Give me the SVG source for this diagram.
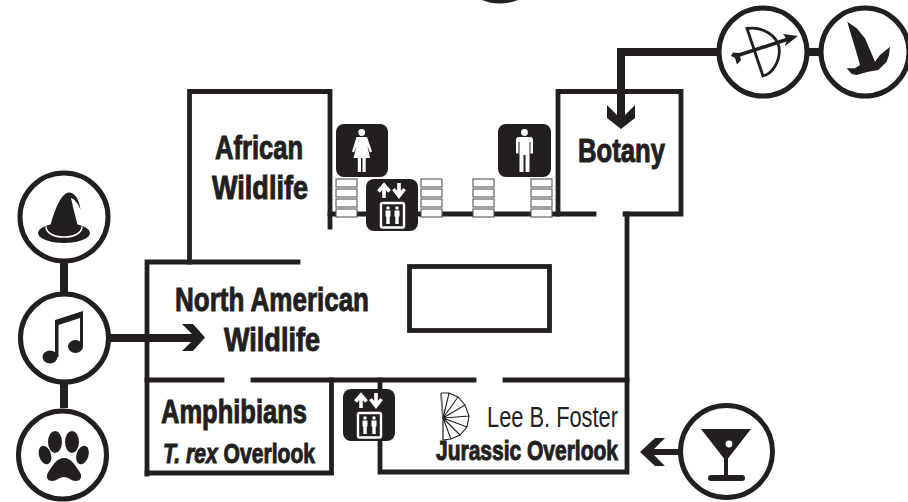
<svg xmlns="http://www.w3.org/2000/svg" width="908" height="502" viewBox="0 0 908 502">
<style>
.w{fill:none;stroke:#231f20;stroke-width:4.800;stroke-linecap:square;stroke-linejoin:miter}
.c{fill:#fff;stroke:#231f20;stroke-width:5}
.l{fill:none;stroke:#231f20;stroke-width:8}
.k{fill:#231f20}
.s{fill:#fff;stroke:#555;stroke-width:1.100}
.t{font-family:"Liberation Sans Narrow","Liberation Sans",Arial,sans-serif;font-weight:700;fill:#231f20;stroke:#231f20;stroke-width:1}
.r{font-family:"Liberation Sans Narrow","Liberation Sans",Arial,sans-serif;font-weight:400;fill:#231f20}
</style>
<defs>
<g id="stairs">
<rect class="s" x="0" y="0" width="21" height="8"/><rect class="s" x="0" y="10" width="21" height="8"/><rect class="s" x="0" y="20" width="21" height="8"/><rect class="s" x="0" y="30" width="21" height="8"/>
</g>
<g id="lift">
<rect class="k" width="52" height="52" rx="8"/>
<path d="M18 19V8M12.500 12.500 18 6l5.500 6.500M33 4v11M27.500 10 33 17l5.500-7" fill="none" stroke="#fff" stroke-width="3.600"/>
<rect x="15" y="24" width="23" height="24.500" rx="1.500" fill="#231f20" stroke="#fff" stroke-width="2.400"/>
<circle cx="22" cy="29" r="1.800" fill="#fff"/><circle cx="31" cy="29" r="1.800" fill="#fff"/>
<path d="M19.500 31.500h5v6h-.8V45h-3.400v-7.500h-.8zM28.500 31.500h5v6h-.8V45h-3.400v-7.500h-.8z" fill="#fff"/>
</g>
</defs>

<g id="walls">
<path class="w" d="M189.500 262V91.500H330V227"/>
<path class="w" d="M147 474V262H298"/>
<path class="w" d="M147 380H222M253 380H474M505 380H627"/>
<path class="w" d="M147 473H331.500V380"/>
<path class="w" d="M380 380V472H627V214H681V91.500H558V214"/>
<path class="w" d="M330 214H594M625 214H627"/>
<rect class="w" x="409.500" y="266.500" width="140" height="64"/>
</g>

<g id="connectors">
<path class="l" d="M64 263V292M64 384V408"/>
<path class="l" d="M110 338H195"/>
<path class="k" d="M182 324H193L205 337.500 193 351H182L192 341V334Z"/>
<path class="l" d="M717 52H621V120"/>
<path class="l" d="M809 52H819"/>
<path class="k" d="M607 105 617 115H625L635 105V118L621 129 607 118Z"/>
<path class="l" d="M679 452H650" style="stroke-width:6"/>
<path class="k" d="M640 452 655 438H665L654 449V455L665 466H655Z"/>
</g>

<g id="stairs-north">
<use href="#stairs" x="336" y="179"/><use href="#stairs" x="421" y="179"/><use href="#stairs" x="473" y="179"/><use href="#stairs" x="531" y="179"/>
</g>

<g id="restroom-women">
<rect class="k" x="336" y="124" width="52" height="53" rx="8"/>
<circle cx="361.700" cy="132.500" r="3.400" fill="#fff"/>
<path d="M356.500 137H367L372 151.500 370 152.500 367.500 146 370 158H365.700V172H362.500V158H361V172H357.800V158H353.500L356.500 146 354 152.500 352 151.500Z" fill="#fff"/>
</g>
<g id="restroom-men">
<rect class="k" x="498" y="124" width="53" height="53" rx="8"/>
<circle cx="524.500" cy="132.500" r="3.400" fill="#fff"/>
<path d="M519 137H530Q533 137 533 140V153.500H530.500V142H529.500V172H525.500V155H523.500V172H519.500V142H518.500V153.500H516V140Q516 137 519 137Z" fill="#fff"/>
</g>
<g id="elevator-north"><use href="#lift" x="366" y="179"/></g>
<g id="elevator-south"><use href="#lift" x="343" y="389"/></g>

<g id="spiral-stairs">
<path d="M441 393 443 418V440" fill="none" stroke="#777" stroke-width="2"/>
<path d="M441 393H449L458 397 465 405 469 416 467 427 460 435 451 439 443 440M443 418 449 393.500M443 418 458 397M443 418 465 405M443 418 469 416M443 418 467 427M443 418 460 435M443 418 451 439" fill="none" stroke="#231f20" stroke-width="1.100"/>
</g>

<g id="label-african">
<text class="t" x="215" y="159" font-size="34" textLength="88" lengthAdjust="spacingAndGlyphs">African</text>
<text class="t" x="212" y="199" font-size="34" textLength="96" lengthAdjust="spacingAndGlyphs">Wildlife</text>
</g>
<g id="label-botany"><text class="t" x="578" y="162" font-size="34" textLength="87" lengthAdjust="spacingAndGlyphs">Botany</text></g>
<g id="label-north-american">
<text class="t" x="175" y="311" font-size="34" textLength="194" lengthAdjust="spacingAndGlyphs">North American</text>
<text class="t" x="224" y="351" font-size="34" textLength="96" lengthAdjust="spacingAndGlyphs">Wildlife</text>
</g>
<g id="label-amphibians">
<text class="t" x="161" y="423" font-size="33" textLength="146" lengthAdjust="spacingAndGlyphs">Amphibians</text>
<text class="t" x="163" y="463" font-size="28" textLength="152" lengthAdjust="spacingAndGlyphs"><tspan font-style="italic">T. rex</tspan> Overlook</text>
</g>
<g id="label-jurassic">
<text class="r" x="487" y="427" font-size="29" textLength="131" lengthAdjust="spacingAndGlyphs">Lee B. Foster</text>
<text class="t" x="436" y="460" font-size="28" textLength="182" lengthAdjust="spacingAndGlyphs">Jurassic Overlook</text>
</g>

<g id="node-top"><circle class="c" cx="500" cy="-43" r="44"/></g>

<g id="node-wizard">
<circle class="c" cx="64" cy="217" r="44"/>
<ellipse class="k" cx="64" cy="233" rx="26" ry="10"/>
<path d="M46 226.500C46 233 54 237 64 237S82 233 82 226.500" fill="none" stroke="#fff" stroke-width="1.600"/>
<path class="k" d="M50 227C54 212 60 195 68 192.500C74 192 79 198 80.500 209.500C78 203 74 199 71 198C73 208 76 218 78 227C76 233 54 233 50 227Z"/>
</g>
<g id="node-music">
<circle class="c" cx="64.500" cy="338" r="44"/>
<ellipse class="k" cx="50" cy="357" rx="7.500" ry="6.500"/>
<ellipse class="k" cx="75.500" cy="346.500" rx="7.500" ry="6.500"/>
<path class="k" d="M55 320 83 311V347H80V318L58.500 325V357H55Z"/>
</g>
<g id="node-paw">
<circle class="c" cx="62.500" cy="455" r="44"/>
<ellipse class="k" cx="55" cy="442" rx="7" ry="11"/>
<ellipse class="k" cx="72" cy="442" rx="7" ry="11"/>
<ellipse class="k" cx="45" cy="455" rx="6" ry="9.500" transform="rotate(-18 45 455)"/>
<ellipse class="k" cx="82.500" cy="455" rx="6" ry="9.500" transform="rotate(18 82.500 455)"/>
<path class="k" d="M64 458C71 458 75 465 79 471C83 476 81 481 76 481C71 481 69 477 64 477S57 481 52 481C47 481 45 476 49 471C53 465 57 458 64 458Z"/>
</g>
<g id="node-archery">
<circle class="c" cx="763" cy="52" r="44"/>
<path d="M747 28.500 763 76C772 74 781 61 779 47C777 36 763 26 747 28.500Z" fill="none" stroke="#231f20" stroke-width="2.800"/>
<path d="M736 56 790 38.500" fill="none" stroke="#231f20" stroke-width="3.600"/>
<path class="k" d="M798 36 785 46 787 39.500 783 34ZM733 52.500 739 53 741 60 737 64.500 735 58 731 56Z"/>
</g>
<g id="node-bird">
<circle class="c" cx="865" cy="52" r="44"/>
<path class="k" d="M847.300 21.700 856.700 28.300 865 38.300 870 50 875 61.700 880 55 890 46.700 889 55 886.700 61.700 878.300 70 868.300 71.700 856.700 75 851.700 74 846.700 68.300H855L860 65 856.700 53.300 851.700 36.700Z"/>
</g>
<g id="node-cocktail">
<circle class="c" cx="726.500" cy="451.500" r="46"/>
<path class="k" d="M701 429H751L728 458.500V476H724V458.500Z"/>
<rect class="k" x="708" y="475" width="37" height="6" rx="3"/>
<circle cx="729" cy="444" r="3.400" fill="#fff"/>
</g>
</svg>
